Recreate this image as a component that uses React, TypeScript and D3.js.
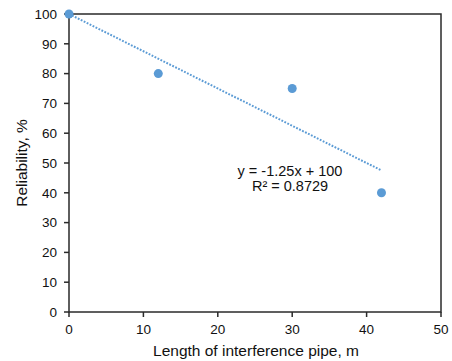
import React from "react";
import * as d3 from "d3";

const lengths = [0, 12, 30, 42];
const reliability = [100, 80, 75, 40];
const xTicks = [0, 10, 20, 30, 40, 50];
const yTicks = [0, 10, 20, 30, 40, 50, 60, 70, 80, 90, 100];
const trendSlope = -1.25;
const trendIntercept = 100;
const eqLabel = "y = -1.25x + 100";
const r2Label = "R² = 0.8729";
const xTitle = "Length of interference pipe, m";
const yTitle = "Reliability, %";

export default function App() {
  const W = 452, H = 361;
  const m = { left: 69, right: 441, top: 14, bottom: 312 };
  const x = d3.scaleLinear().domain([0, 50]).range([m.left, m.right]);
  const y = d3.scaleLinear().domain([0, 100]).range([m.bottom, m.top]);
  const font = "'Liberation Sans', Arial, sans-serif";
  const axisColor = "#2a2a2a";
  const blue = "#5B9BD5";
  const xMin = d3.min(lengths)!;
  const xMax = d3.max(lengths)!;
  const trend = d3.line<number>().x((d) => x(d)).y((d) => y(trendSlope * d + trendIntercept));

  return (
    <svg width={W} height={H} style={{ position: "absolute", left: 0, top: 0, background: "#fff" }} fontFamily={font}>
      <rect x={0} y={0} width={W} height={H} fill="#fff" />
      {/* frame */}
      <rect x={m.left} y={m.top} width={m.right - m.left} height={m.bottom - m.top} fill="none" stroke={axisColor} strokeWidth={1.5} />
      {/* y ticks */}
      {yTicks.map((t) => (
        <g key={"y" + t}>
          <line x1={m.left - 5} x2={m.left} y1={y(t)} y2={y(t)} stroke={axisColor} strokeWidth={1.5} />
          <text x={m.left - 12} y={y(t)} dy="0.35em" textAnchor="end" fontSize={13.5} fill="#111">{t}</text>
        </g>
      ))}
      {/* x ticks */}
      {xTicks.map((t) => (
        <g key={"x" + t}>
          <line x1={x(t)} x2={x(t)} y1={m.bottom} y2={m.bottom + 5} stroke={axisColor} strokeWidth={1.5} />
          <text x={x(t)} y={m.bottom + 17} dy="0.35em" textAnchor="middle" fontSize={13.5} fill="#111">{t}</text>
        </g>
      ))}
      {/* trendline */}
      <path d={trend([xMin, xMax]) || ""} fill="none" stroke={blue} strokeWidth={2} strokeDasharray="1.8 1.5" />
      {/* points */}
      {lengths.map((l, i) => (
        <circle key={i} cx={x(l)} cy={y(reliability[i])} r={4.5} fill={blue} />
      ))}
      {/* equation */}
      <text x={290} y={176} textAnchor="middle" fontSize={14.5} fill="#111">{eqLabel}</text>
      <text x={290} y={191} textAnchor="middle" fontSize={14.5} fill="#111">{r2Label}</text>
      {/* titles */}
      <text x={256} y={351} dy="0.35em" textAnchor="middle" fontSize={15.5} fill="#111">{xTitle}</text>
      <text transform={`translate(22,${(m.top + m.bottom) / 2}) rotate(-90)`} dy="0.35em" textAnchor="middle" fontSize={15.5} fill="#111">{yTitle}</text>
    </svg>
  );
}
